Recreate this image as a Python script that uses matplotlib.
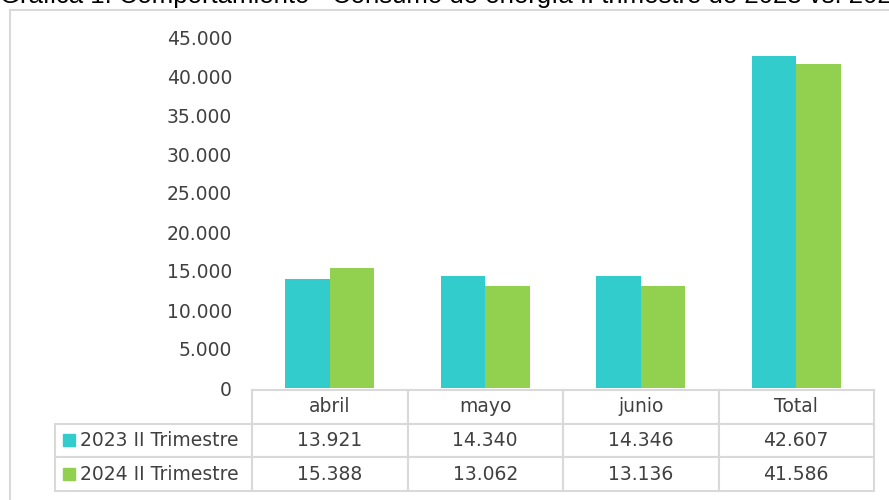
import matplotlib
matplotlib.use('Agg')
import matplotlib.pyplot as plt
from matplotlib.patches import Rectangle
from matplotlib.ticker import FuncFormatter
from matplotlib.table import Table
import numpy as np

# ---- data ----
categories = ['abril', 'mayo', 'junio', 'Total']
series_names = ['2023 II Trimestre', '2024 II Trimestre']
values_2023 = [13921, 14340, 14346, 42607]
values_2024 = [15388, 13062, 13136, 41586]
y_ticks = [0, 5000, 10000, 15000, 20000, 25000, 30000, 35000, 40000, 45000]
title_text = 'Gráfica 1. Comportamiento - Consumo de energía II trimestre de 2023 vs. 2024'
colors = ['#33CCCC', '#92D050']

plt.rcParams['font.family'] = ['DejaVu Sans']
TXT = '#404040'
GRID = '#d9d9d9'

W, H = 889, 500
fig = plt.figure(figsize=(W / 100, H / 100), dpi=100)

def fmt(v, pos=None):
    return f'{int(v):,}'.replace(',', '.')

# outer chart frame
fig.patches.append(Rectangle((10 / W, -0.2), 1.5, 1 - 10 / H + 0.2,
                             transform=fig.transFigure, fill=False,
                             edgecolor=GRID, lw=1.5))

# title (partially cut at the top edge, as in the reference)
fig.text(0, 1 - 3 / H, title_text, ha='left', va='baseline',
         fontsize=18.5, family=['Liberation Sans'], color='black')

# axes
ax_l, ax_b, ax_w, ax_h = 252, 112, 622, 351
ax = fig.add_axes([ax_l / W, ax_b / H, ax_w / W, ax_h / H])
x = np.arange(len(categories))
bw = 0.2857
ax.bar(x - bw / 2, values_2023, bw, color=colors[0], label=series_names[0])
ax.bar(x + bw / 2, values_2024, bw, color=colors[1], label=series_names[1])
ax.set_xlim(-0.5, len(categories) - 0.5)
ax.set_ylim(0, 45000)
ax.set_yticks(y_ticks)
ax.yaxis.set_major_formatter(FuncFormatter(fmt))
ax.set_xticks([])
ax.tick_params(axis='y', length=0, pad=14.4, labelsize=13.5, labelcolor=TXT)
for s in ax.spines.values():
    s.set_visible(False)

# data table (built cell by cell for exact column widths)
cell_text = [[fmt(v) for v in values_2023], [fmt(v) for v in values_2024]]
lab_w = 197 / ax_w
col_w = 1 / len(categories)
tbl_top, tbl_bot = 390, 491
row_h = (tbl_bot - tbl_top) / 3 / ax_h
# bbox covers only the data grid; the row-label column sits to its left
bbox = [0, -(tbl_bot - 388) / ax_h, 1, (tbl_bot - tbl_top) / ax_h]
tbl = Table(ax, bbox=bbox)
for j, cat in enumerate(categories):
    tbl.add_cell(0, j, width=col_w, height=row_h, text=cat, loc='center')
for i, name in enumerate(series_names):
    c = tbl.add_cell(i + 1, -1, width=lab_w, height=row_h, text=name, loc='left')
    c.PAD = 25 / 197
    for j in range(len(categories)):
        tbl.add_cell(i + 1, j, width=col_w, height=row_h,
                     text=cell_text[i][j], loc='center')
tbl.auto_set_font_size(False)
tbl.set_fontsize(13.5)
for cell in tbl.get_celld().values():
    cell.set_edgecolor(GRID)
    cell.set_linewidth(1.5)
    cell.get_text().set_color(TXT)
ax.add_table(tbl)

# legend keys inside the row-label cells
row_centers = [439.5, 474]
for col, yc in zip(colors, row_centers):
    fig.patches.append(Rectangle((63 / W, (H - yc - 6) / H), 12 / W, 12 / H,
                                 transform=fig.transFigure, color=col))

fig.savefig('out.png', dpi=100)
